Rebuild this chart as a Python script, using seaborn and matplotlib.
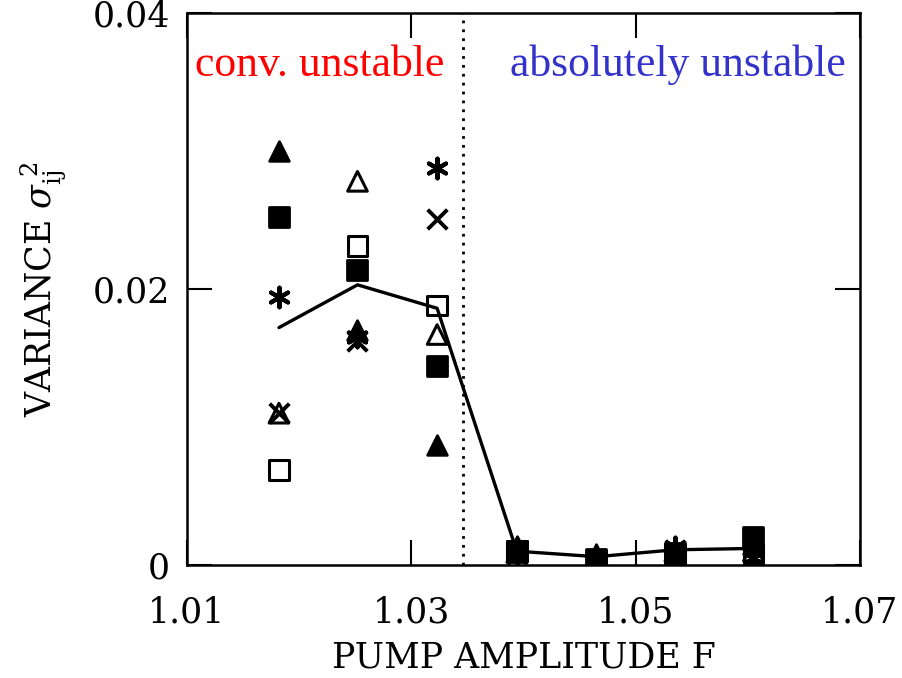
import pandas as pd
import matplotlib
matplotlib.use("Agg")
import matplotlib.pyplot as plt
import seaborn as sns

# pump amplitude F for each column of points
pump_f = [1.0182, 1.0252, 1.0323, 1.0394, 1.0465, 1.0535, 1.0605]

# variance of each pair
tri_filled = [0.0300, 0.0170, 0.0087, 0.0014, 0.0008, 0.0009, 0.0015]
sq_filled = [0.0252, 0.0214, 0.0144, 0.0010, 0.0004, 0.0009, 0.0020]
asterisk = [0.0194, 0.0165, 0.0288, 0.0008, 0.0004, 0.0013, 0.0005]
tri_open = [0.0110, 0.0278, 0.0167, 0.0009, 0.0005, 0.0010, 0.0010]
cross = [0.0110, 0.0162, 0.0251, 0.0008, 0.0003, 0.0011, 0.0005]
sq_open = [0.0069, 0.0231, 0.0188, 0.0010, 0.0003, 0.0008, 0.0007]

# mean variance (solid line)
mean_var = [0.0172, 0.0203, 0.0186, 0.0010, 0.0006, 0.0011, 0.0012]

x_ticks = [1.01, 1.03, 1.05, 1.07]
x_tick_labels = ["1.01", "1.03", "1.05", "1.07"]
y_ticks = [0.0, 0.02, 0.04]
y_tick_labels = ["0", "0.02", "0.04"]

boundary_f = 1.0346

sns.set_style("ticks")
plt.rcParams["font.family"] = ["DejaVu Serif"]
plt.rcParams["mathtext.fontset"] = "dejavuserif"
for key in ["text.color", "axes.edgecolor", "axes.labelcolor",
            "xtick.color", "ytick.color"]:
    plt.rcParams[key] = "black"

fig = plt.figure(figsize=(9.02, 6.78), dpi=100)
ax = fig.add_axes([0.2073, 0.1667, 0.7461, 0.8142])

sns.lineplot(x=pump_f, y=mean_var, ax=ax, color="black", lw=2.4, zorder=3)

series = [
    (tri_filled, "^", "black", 2.0),
    (sq_filled, "s", "black", 2.0),
    (asterisk, (6, 2, 0), "black", 3.0),
    (tri_open, "^", "none", 2.2),
    (cross, "x", "black", 2.8),
    (sq_open, "s", "none", 2.2),
]
for vals, mk, face, lw in series:
    df = pd.DataFrame({"F": pump_f, "var": vals})
    sns.scatterplot(data=df, x="F", y="var", ax=ax, marker=mk,
                    s=200, facecolor=face, edgecolor="black",
                    linewidth=lw, zorder=4)

ax.axvline(boundary_f, color="black", lw=2, ls=(0, (1, 2.2)), zorder=2)

ax.text(1.0107, 0.0354, "conv. unstable", color="red",
        fontsize=31.5, family="Liberation Serif", va="baseline")
ax.text(1.0388, 0.0354, "absolutely unstable", color="#3333cc",
        fontsize=31.5, family="Liberation Serif", va="baseline")

ax.set_xlim(1.01, 1.07)
ax.set_ylim(0, 0.04)
ax.set_xticks(x_ticks)
ax.set_xticklabels(x_tick_labels)
ax.set_yticks(y_ticks)
ax.set_yticklabels(y_tick_labels)
ax.tick_params(direction="in", length=18, width=1.5, top=True, right=True,
               labelsize=25)
ax.tick_params(axis="x", pad=22)
ax.tick_params(axis="y", pad=12)
for sp in ax.spines.values():
    sp.set_linewidth(1.8)
    sp.set_visible(True)

ax.set_xlabel("PUMP AMPLITUDE F", fontsize=25, labelpad=8)
ax.set_ylabel(r"VARIANCE $\sigma_{\rm ij}^{\;2}$", fontsize=25, labelpad=18)

fig.savefig("out.png", dpi=100)
